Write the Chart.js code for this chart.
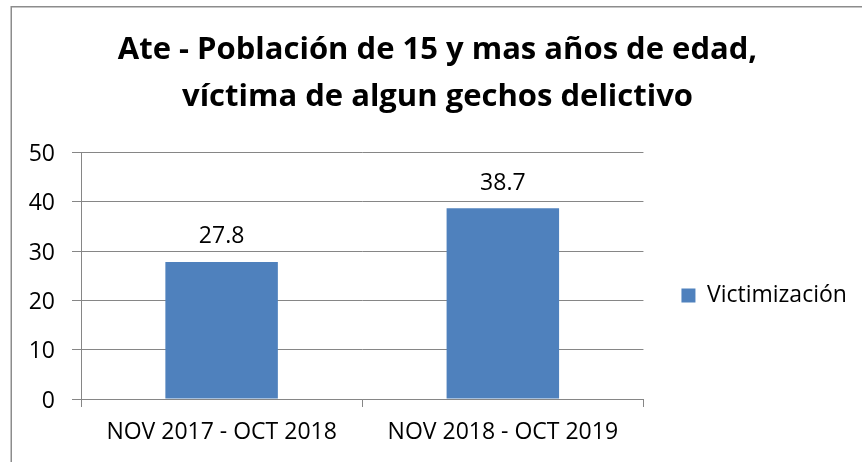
<!DOCTYPE html>
<html>
<head>
<meta charset="utf-8">
<script src="https://cdn.jsdelivr.net/npm/chart.js@4"></script>
<style>
  html, body { margin: 0; padding: 0; background: #ffffff; }
  #wrap { position: relative; width: 862px; height: 462px; }
</style>
</head>
<body>
<div id="wrap"><canvas id="c" width="862" height="462"></canvas></div>
<script>
// ---- data ----
const titleLines = ["Ate - Población de 15 y mas años de edad,", "víctima de algun gechos delictivo"];
const categories = ["NOV 2017 - OCT 2018", "NOV 2018 - OCT 2019"];
const seriesName = "Victimización";
const seriesValues = [27.8, 38.7];
const yTicks = [0, 10, 20, 30, 40, 50];

// ---- styles ----
const FONT = "'Open Sans', 'Liberation Sans', sans-serif";
const BAR = "#4F81BD";
const GRID = "#868686";

Chart.defaults.font.family = FONT;
Chart.defaults.color = "#000000";

const frame = {
  id: "frame",
  beforeDraw(chart) {
    const ctx = chart.ctx;
    ctx.save();
    ctx.strokeStyle = "#8c8c8c";
    ctx.lineWidth = 1.5;
    ctx.beginPath();
    ctx.moveTo(11.25, 462);
    ctx.lineTo(11.25, 6.75);
    ctx.lineTo(862, 6.75);
    ctx.stroke();
    ctx.restore();
  }
};

const valueLabels = {
  id: "valueLabels",
  afterDatasetsDraw(chart) {
    const ctx = chart.ctx;
    ctx.save();
    ctx.font = "23px " + FONT;
    ctx.fillStyle = "#000000";
    ctx.textAlign = "center";
    ctx.textBaseline = "alphabetic";
    chart.data.datasets.forEach((ds, di) => {
      chart.getDatasetMeta(di).data.forEach((bar, i) => {
        ctx.fillText(String(ds.data[i]), bar.x, bar.y - 18.5);
      });
    });
    ctx.restore();
  }
};

new Chart(document.getElementById("c"), {
  type: "bar",
  data: {
    labels: categories,
    datasets: [{
      label: seriesName,
      data: seriesValues,
      backgroundColor: BAR,
      borderWidth: 0,
      categoryPercentage: 1.0,
      barPercentage: 0.4
    }]
  },
  plugins: [frame, valueLabels],
  options: {
    responsive: false,
    animation: false,
    devicePixelRatio: 1,
    layout: { padding: { left: 25.6, right: 12.6, top: 0, bottom: 0 } },
    plugins: {
      title: {
        display: true,
        text: titleLines,
        color: "#000000",
        font: { family: FONT, size: 31, weight: "bold", lineHeight: 47 / 31 },
        padding: { top: 26.5, bottom: 32 }
      },
      legend: {
        display: true,
        position: "right",
        align: "start",
        title: {
          display: true,
          text: " ",
          font: { size: 10, lineHeight: 1 },
          padding: { top: 0, bottom: 236 }
        },
        labels: {
          boxWidth: 14,
          boxHeight: 14,
          padding: 38,
          color: "#000000",
          font: { family: FONT, size: 23 }
        }
      },
      tooltip: { enabled: false }
    },
    scales: {
      x: {
        grid: {
          display: true,
          offset: true,
          drawOnChartArea: false,
          drawTicks: true,
          tickLength: 8,
          color: GRID,
          lineWidth: 1
        },
        border: { display: true, color: GRID, width: 1 },
        ticks: { font: { family: FONT, size: 23 }, color: "#000000", padding: 12, maxRotation: 0 },
        afterFit(scale) { scale.height = 63; }
      },
      y: {
        min: 0,
        max: 50,
        afterBuildTicks(scale) { scale.ticks = yTicks.map(v => ({ value: v })); },
        grid: {
          color: GRID,
          lineWidth: 1,
          drawTicks: true,
          tickLength: 9
        },
        border: { display: true, color: GRID, width: 1 },
        ticks: { font: { family: FONT, size: 23 }, color: "#000000", padding: 17, labelOffset: 2 },
        afterFit(scale) { scale.width = 55.4; }
      }
    }
  }
});
</script>
</body>
</html>
